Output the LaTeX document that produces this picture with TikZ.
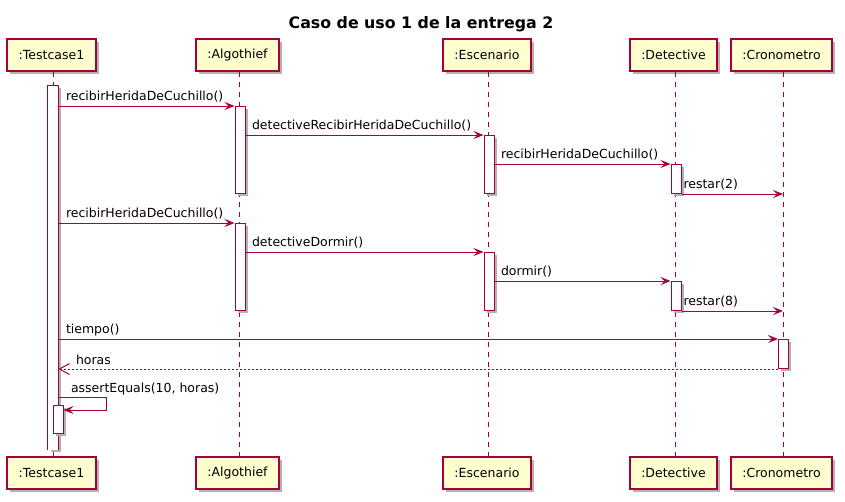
\documentclass[tikz,border=0pt]{standalone}
\usepackage{fontspec}
\setmainfont{DejaVu Sans}
\usetikzlibrary{arrows.meta}
\definecolor{umlred}{HTML}{A80036}
\definecolor{umlfill}{HTML}{FEFECE}

\begin{document}
\begin{tikzpicture}[x=1pt,y=-1pt,
  part/.style={draw=umlred,fill=umlfill,line width=1.5pt,minimum height=32pt,inner xsep=11.5pt,
    font=\fontsize{12.5}{15}\selectfont,
    preaction={draw=none,fill=black!30,transform canvas={shift={(3pt,-3pt)}}}},
  bar/.style={draw=umlred,fill=white,line width=1pt,minimum width=10pt,inner sep=0pt,anchor=north,
    preaction={draw=none,fill=black!30,transform canvas={shift={(2.5pt,-2.5pt)}}}},
  life/.style={umlred,line width=1pt,dash pattern=on 5pt off 5pt},
  msg/.style={umlred,line width=1pt,-{Stealth[length=10pt,width=8pt,inset=4pt]}},
  ret/.style={umlred,line width=1pt,dash pattern=on 2pt off 2pt,-{Straight Barb[length=10pt,width=11pt]}},
  lbl/.style={text=black,font=\fontsize{12.5}{15}\selectfont,anchor=base west,inner sep=0pt}]
\useasboundingbox (0,0) rectangle (845,501);
\node[font=\bfseries\fontsize{15.8}{19}\selectfont,anchor=base] (title) at (421,28) {Caso de uso 1 de la entrega 2};
% participants
\node[part] (tc) at (51.5,55) {:Testcase1};
\node[part] (al) at (237.5,55) {:Algothief};
\node[part] (es) at (487,55) {:Escenario};
\node[part] (de) at (673.5,55) {:Detective};
\node[part] (cr) at (781.5,55) {:Cronometro};
\node[part] (tcB) at (51.5,473) {:Testcase1};
\node[part] (alB) at (237.5,473) {:Algothief};
\node[part] (esB) at (487,473) {:Escenario};
\node[part] (deB) at (673.5,473) {:Detective};
\node[part] (crB) at (781.5,473) {:Cronometro};
\foreach \p/\x in {tc/53,al/239,es/488,de/675,cr/783}
  \draw[life] (\x,0 |- \p.south) -- (\x,0 |- \p B.north);
% activations
\node[bar,draw=none,minimum height=364] (tcb) at (53,85) {};
\draw[umlred,line width=1pt] (tcb.south west) |- (tcb.north east) -- (tcb.south east);
\node[bar,minimum height=87] (al1) at (240,106) {};
\node[bar,minimum height=58] (es1) at (489,135) {};
\node[bar,minimum height=29] (de1) at (676,164) {};
\node[bar,minimum height=87] (al2) at (240,223) {};
\node[bar,minimum height=58] (es2) at (489,252) {};
\node[bar,minimum height=29] (de2) at (676,281) {};
\node[bar,minimum height=29] (cr1) at (783.5,339) {};
\node[bar,minimum height=28] (tc2) at (58,405) {};
% messages
\draw[msg] (tcb.east |- al1.north) -- (al1.north west) node[lbl,pos=0,xshift=7pt,yshift=6pt] {recibirHeridaDeCuchillo()};
\draw[msg] (al1.east |- es1.north) -- (es1.north west) node[lbl,pos=0,xshift=6pt,yshift=6pt] {detectiveRecibirHeridaDeCuchillo()};
\draw[msg] (es1.east |- de1.north) -- (de1.north west) node[lbl,pos=0,xshift=6pt,yshift=6pt] {recibirHeridaDeCuchillo()};
\draw[msg] (de1.south east) -- (783,0 |- de1.south) node[lbl,pos=0,xshift=1.5pt,yshift=6pt] {restar(2)};
\draw[msg] (tcb.east |- al2.north) -- (al2.north west) node[lbl,pos=0,xshift=7pt,yshift=6pt] {recibirHeridaDeCuchillo()};
\draw[msg] (al2.east |- es2.north) -- (es2.north west) node[lbl,pos=0,xshift=6pt,yshift=6pt] {detectiveDormir()};
\draw[msg] (es2.east |- de2.north) -- (de2.north west) node[lbl,pos=0,xshift=6pt,yshift=6pt] {dormir()};
\draw[msg] (de2.south east) -- (783,0 |- de2.south) node[lbl,pos=0,xshift=1.5pt,yshift=6pt] {restar(8)};
\draw[msg] (tcb.east |- cr1.north) -- (cr1.north west) node[lbl,pos=0,xshift=7pt,yshift=6pt] {tiempo()};
\draw[ret] (cr1.south west) -- (tcb.east |- cr1.south) node[lbl,pos=1,xshift=17pt,yshift=5pt] {horas};
\draw[msg] (tcb.east |- 0,397) -- (106,397) node[lbl,pos=0,xshift=12pt,yshift=5pt] {assertEquals(10, horas)}
  -- (106,410) -- (tc2.east |- 0,410);
\end{tikzpicture}
\end{document}
